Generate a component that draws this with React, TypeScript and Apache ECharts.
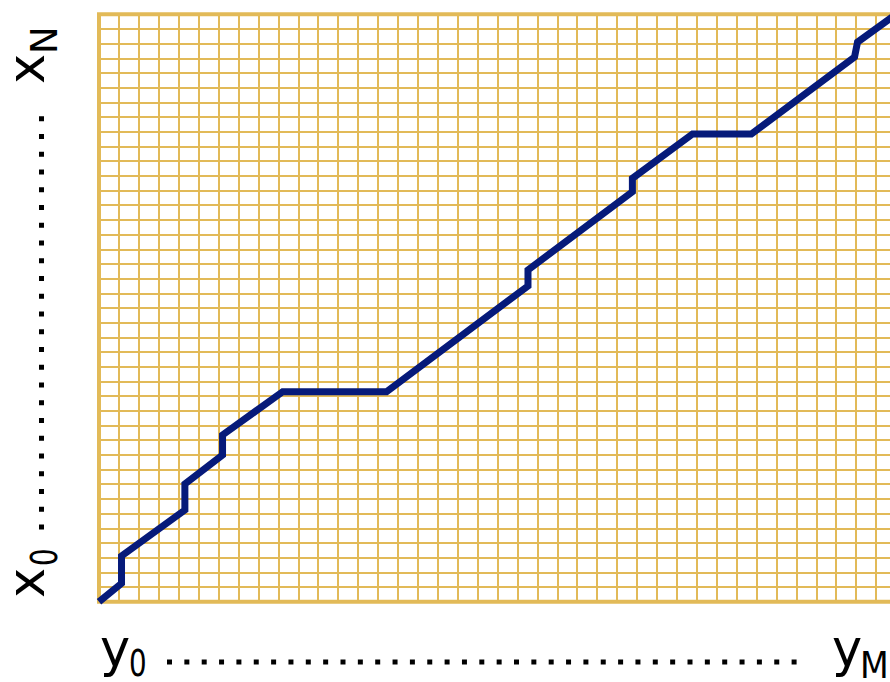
import React, { useEffect, useRef } from "react";
import * as echarts from "echarts";

// Warping path vertices in grid-cell units (column, row)
const pathCols = [0, 1.13, 1.13, 4.31, 4.31, 6.2, 6.2, 9.22, 14.43, 21.53, 21.53, 26.77, 26.77, 29.79, 32.74, 37.92, 38.07, 40];
const pathRows = [0, 1.25, 3.11, 6.24, 8.02, 9.99, 11.35, 14.3, 14.3, 21.5, 22.59, 27.92, 28.83, 31.85, 31.85, 37.09, 38.11, 40];

const nCols = 40;
const nRows = 40;

const bottomLabels = [
  { main: "y", sub: "0" },
  { main: "y", sub: "M" },
];
const leftLabels = [
  { main: "x", sub: "0" },
  { main: "x", sub: "N" },
];

const GOLD = "#e2ba58";
const NAVY = "#061a7a";
const FONT = "DejaVu Sans";
const MAIN_SIZE = 51;
const SUB_SIZE = 37;

function label(main: string, sub: string, x: number, y: number, rotation: number, subDx: number, subDy: number, subScaleX: number) {
  return {
    type: "group",
    x,
    y,
    rotation,
    children: [
      {
        type: "text",
        style: {
          text: main,
          x: 0,
          y: 0,
          fontFamily: FONT,
          fontSize: MAIN_SIZE,
          fill: "#000",
          align: "left",
          verticalAlign: "middle",
        },
        y: -MAIN_SIZE * 0.36,
      },
      {
        type: "text",
        style: {
          text: sub,
          x: 0,
          y: 0,
          fontFamily: FONT,
          fontSize: SUB_SIZE,
          fill: "#000",
          align: "left",
          verticalAlign: "middle",
        },
        x: subDx,
        y: subDy - SUB_SIZE * 0.36,
        scaleX: subScaleX,
      },
    ],
  };
}

function dots(x0: number, y0: number, dx: number, dy: number, n: number) {
  const out: any[] = [];
  for (let i = 0; i < n; i++) {
    out.push({
      type: "rect",
      shape: { x: x0 + dx * i - 2.5, y: y0 + dy * i - 2.5, width: 5, height: 5 },
      style: { fill: "#000" },
    });
  }
  return out;
}

export default function App() {
  const ref = useRef<HTMLDivElement>(null);
  useEffect(() => {
    if (!ref.current) return;
    const chart = echarts.init(ref.current, undefined, { renderer: "svg" });
    const data = pathCols.map((c, i) => [c, pathRows[i]]);
    chart.setOption({
      animation: false,
      grid: {
        left: 99,
        top: 14.3,
        width: 797,
        bottom: 80.3,
        show: true,
        borderColor: GOLD,
        borderWidth: 4,
        backgroundColor: "transparent",
      },
      xAxis: {
        type: "value",
        min: 0,
        max: nCols,
        interval: 1,
        axisLabel: { show: false },
        axisTick: { show: false },
        axisLine: { show: false },
        splitLine: { show: true, lineStyle: { color: GOLD, width: 2 } },
      },
      yAxis: {
        type: "value",
        min: 0,
        max: nRows,
        interval: 1,
        axisLabel: { show: false },
        axisTick: { show: false },
        axisLine: { show: false },
        splitLine: { show: true, lineStyle: { color: GOLD, width: 2 } },
      },
      series: [
        {
          type: "line",
          data,
          symbol: "none",
          clip: false,
          lineStyle: { color: NAVY, width: 7, join: "miter", cap: "butt" },
          z: 5,
        },
      ],
      graphic: [
        label(bottomLabels[0].main, bottomLabels[0].sub, 100, 667, 0, 29, 10, 0.75),
        label(bottomLabels[1].main, bottomLabels[1].sub, 832, 667, 0, 28, 11, 0.9),
        label(leftLabels[0].main, leftLabels[0].sub, 45, 598, Math.PI / 2, 32, 13, 0.75),
        label(leftLabels[1].main, leftLabels[1].sub, 45, 84, Math.PI / 2, 30, 13, 1),
        ...dots(169.5, 662, 17.35, 0, 37),
        ...dots(41.5, 527, 0, -17.75, 24),
      ],
    });
    return () => chart.dispose();
  }, []);
  return (
    <div style={{ position: "fixed", left: 0, top: 0, width: 890, height: 682, overflow: "hidden", background: "#fff" }}>
      <div ref={ref} style={{ position: "absolute", left: 0, top: 0, width: 900, height: 682 }} />
    </div>
  );
}
